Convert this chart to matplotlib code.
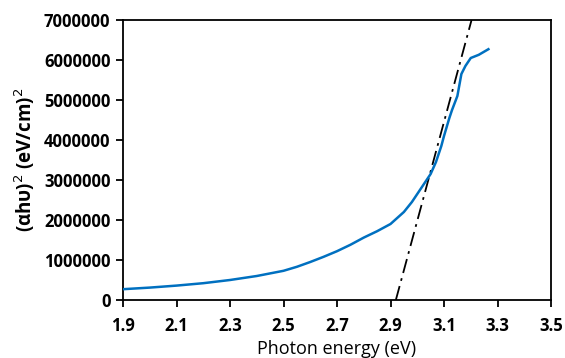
import matplotlib
matplotlib.use("Agg")
import matplotlib.pyplot as plt

energy = [1.9, 2.0, 2.1, 2.2, 2.3, 2.4, 2.5, 2.55, 2.6, 2.65, 2.7, 2.75, 2.8, 2.85, 2.9,
          2.95, 2.98, 3.0, 3.02, 3.05, 3.07, 3.09, 3.1, 3.12, 3.13, 3.15, 3.165, 3.18,
          3.2, 3.23, 3.266]
alpha_hv_sq = [0.27e6, 0.31e6, 0.36e6, 0.42e6, 0.50e6, 0.60e6, 0.73e6, 0.83e6, 0.95e6,
               1.08e6, 1.22e6, 1.38e6, 1.56e6, 1.72e6, 1.90e6, 2.20e6, 2.45e6, 2.65e6,
               2.85e6, 3.15e6, 3.45e6, 3.85e6, 4.1e6, 4.55e6, 4.75e6, 5.1e6, 5.65e6,
               5.85e6, 6.05e6, 6.13e6, 6.27e6]
fit_x = [2.92, 3.203]
fit_y = [0, 7.0e6]

xticks = [1.9, 2.1, 2.3, 2.5, 2.7, 2.9, 3.1, 3.3, 3.5]
yticks = [0, 1000000, 2000000, 3000000, 4000000, 5000000, 6000000, 7000000]

plt.rcParams['font.family'] = ['Open Sans', 'DejaVu Sans']

fig = plt.figure(figsize=(5.65, 3.58), dpi=100)
ax = fig.add_axes([123/565, 1 - 300/358, 428/565, 280/358])

ax.plot(energy, alpha_hv_sq, color='#0070C0', lw=1.8, zorder=3)
ax.plot(fit_x, fit_y, color='black', lw=1.3, linestyle=(0, (8, 3, 1.5, 3)), zorder=2)

ax.set_xlim(1.9, 3.5)
ax.set_ylim(0, 7e6)
ax.set_xticks(xticks)
ax.set_xticklabels([f"{t:.1f}" for t in xticks], fontweight='bold', fontsize=12)
ax.set_yticks(yticks)
ax.set_yticklabels([str(t) for t in yticks], fontweight='bold', fontsize=12)
ax.tick_params(direction='out', length=5, width=1.3, pad=4)
ax.tick_params(axis='x', pad=7)

for s in ax.spines.values():
    s.set_linewidth(1.3)
    s.set_color('black')

ax.set_xlabel('Photon energy (eV)', fontsize=13, labelpad=4)
ax.set_ylabel('(αhυ)$^2$ (eV/cm)$^2$', fontsize=13.5, fontweight='bold', labelpad=5)

fig.savefig('out.png', dpi=100)
